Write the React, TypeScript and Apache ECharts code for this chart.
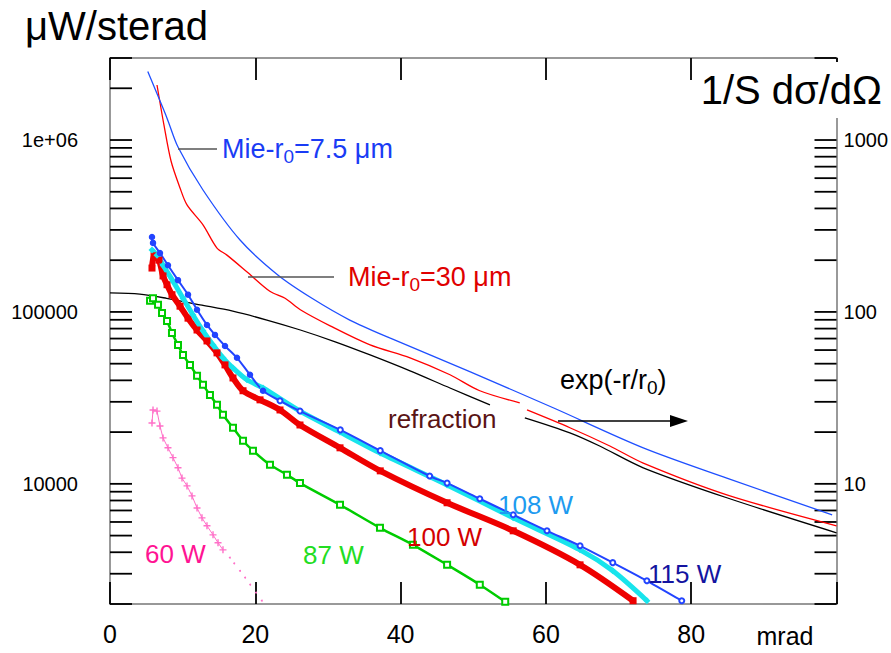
import React, { useEffect, useRef } from "react";
import * as echarts from "echarts";

const FONT = '"Liberation Sans", Arial, Helvetica, sans-serif';

// x ticks
const xTickLabels = ["0", "20", "40", "60", "80"];

// Theory curves [mrad, µW/sterad]
const mie75 = [
  [5.2, 2.5e6], [7.85, 1.34e6], [9.36, 9.1e5], [12.8, 5.12e5], [17.9, 2.62e5],
  [23.1, 1.64e5], [27.8, 1.2e5], [33.0, 8.97e4], [38.5, 7.06e4], [49.6, 4.48e4],
  [61.0, 2.77e4], [73.4, 1.62e4], [84.9, 1.08e4], [99.4, 6600],
];
const mie30a = [
  [6.47, 2.09e6], [7.43, 1.22e6], [8.4, 7.55e5], [9.64, 5.26e5], [10.6, 4.19e5],
  [12.8, 3.21e5], [14.7, 2.36e5], [16.1, 2.14e5], [19.0, 1.69e5], [22.0, 1.32e5],
  [24.1, 1.2e5], [26.2, 1.03e5], [30.3, 8.3e4], [35.8, 6.43e4], [41.3, 5.41e4],
  [46.8, 4.31e4], [50.9, 3.48e4], [56.4, 2.96e4],
];
const mie30b = [
  [57.4, 2.69e4], [63.3, 2.12e4], [68.8, 1.66e4], [73.4, 1.32e4], [84.9, 8630],
  [100, 5700],
];
const refrA = [
  [0, 1.29e5], [4.1, 1.27e5], [7.8, 1.2e5], [12.4, 1.1e5], [16.9, 1.01e5],
  [21.6, 8.97e4], [26.2, 7.85e4], [31.0, 6.7e4], [35.8, 5.62e4], [41.3, 4.54e4],
  [46.8, 3.61e4], [52.3, 2.88e4],
];
const refrB = [
  [57.1, 2.42e4], [63.3, 1.98e4], [67.4, 1.66e4], [73.4, 1.24e4], [84.9, 8300],
  [100, 5190],
];

// Measurements
const w115 = [
  [5.78, 2.73e5], [5.92, 2.52e5], [6.88, 2.2e5], [7.98, 1.87e5], [9.36, 1.53e5],
  [10.74, 1.26e5], [11.98, 1.03e5], [13.35, 8.4e4], [14.45, 7.35e4], [15.83, 6.34e4],
  [17.48, 5.41e4], [19.27, 4.31e4], [21.06, 3.48e4], [23.4, 3.04e4], [26.15, 2.65e4],
  [31.7, 2.06e4], [37.2, 1.56e4], [44.0, 1.11e4], [46.4, 1.01e4], [50.9, 8190],
  [55.5, 6610], [60.15, 5330], [64.7, 4360], [69.2, 3480], [73.9, 2730], [78.7, 2090],
];
const w108 = [
  [5.78, 2.29e5], [6.47, 2.14e5], [7.3, 1.87e5], [8.67, 1.51e5], [10.05, 1.2e5],
  [11.42, 9.6e4], [12.8, 7.76e4], [14.18, 6.43e4], [15.55, 5.41e4], [16.93, 4.72e4],
  [18.86, 4.03e4], [21.06, 3.61e4], [26.15, 2.65e4], [31.66, 2.0e4], [37.2, 1.51e4],
  [46.4, 9860], [55.5, 6340], [64.7, 4130], [69.2, 3120], [73.9, 2090],
];
const w100 = [
  [5.78, 1.8e5], [6.06, 2.12e5], [6.74, 2.0e5], [7.3, 1.62e5], [7.85, 1.44e5],
  [8.53, 1.26e5], [9.64, 1.08e5], [10.74, 9.2e4], [11.98, 7.85e4], [13.35, 6.78e4],
  [14.73, 5.78e4], [15.83, 4.92e4], [16.93, 4.13e4], [18.31, 3.48e4], [20.65, 3.08e4],
  [23.4, 2.69e4], [26.15, 2.2e4], [31.66, 1.62e4], [37.2, 1.19e4], [46.4, 7760],
  [55.5, 5330], [64.7, 3380], [72.0, 2090],
];
const w87 = [
  [5.51, 1.16e5], [5.92, 1.2e5], [6.61, 1.1e5], [7.16, 9.86e4], [7.85, 8.87e4],
  [8.53, 7.55e4], [9.36, 6.43e4], [10.05, 5.62e4], [11.01, 4.92e4], [11.98, 4.25e4],
  [12.8, 3.77e4], [13.76, 3.29e4], [14.73, 2.88e4], [15.55, 2.52e4], [16.93, 2.12e4],
  [18.31, 1.78e4], [19.68, 1.56e4], [22.02, 1.29e4], [24.36, 1.13e4], [26.15, 1.01e4],
  [31.66, 7550], [37.16, 5550], [41.7, 4420], [46.4, 3380], [50.9, 2590], [54.4, 2060],
];
const w60plus = [
  [5.78, 2.26e4], [5.92, 2.69e4], [6.47, 2.65e4], [6.88, 2.17e4], [7.3, 1.85e4],
  [7.98, 1.62e4], [8.67, 1.42e4], [9.36, 1.24e4], [9.91, 1.08e4], [10.6, 9730],
  [11.29, 8510], [11.98, 7240], [12.66, 6340], [13.35, 5700], [14.18, 5050],
  [14.87, 4540], [15.55, 4130],
];
const w60dots = [
  [16.5, 3720], [17.1, 3450], [17.9, 3120], [18.6, 2850], [19.3, 2590],
  [20.1, 2330], [20.9, 2090],
];

// log-axis tick values (left axis; right axis = left / 1000)
const yTickValues = [
  2000, 3000, 4000, 5000, 6000, 7000, 8000, 9000,
  10000, 20000, 30000, 40000, 50000, 60000, 70000, 80000, 90000,
  100000, 200000, 300000, 400000, 500000, 600000, 700000, 800000, 900000,
  1000000, 2000000, 3000000,
];

const PLUS = "path://M4,0h2v4h4v2h-4v4h-2v-4h-4v-2h4z";

function isPow10(v: number) {
  const l = Math.log10(v);
  return Math.abs(l - Math.round(l)) < 1e-6;
}

export default function App() {
  const ref = useRef<HTMLDivElement>(null);
  useEffect(() => {
    document.body.style.margin = "0";
    const chart = echarts.init(ref.current!, null, { renderer: "svg" });
    const axisGray = { color: "#777", width: 1.5 };
    const sub = (color: string) => ({
      a: { fontSize: 27, fontFamily: FONT, fill: color, color, lineHeight: 34 },
      s: { fontSize: 19, fontFamily: FONT, fill: color, color, lineHeight: 19, verticalAlign: "bottom" },
    });
    const label = (x: number, y: number, text: string, color: string, size = 26) => ({
      type: "text",
      x,
      y,
      z: 100,
      style: {
        text,
        fill: color,
        font: `${size}px ${FONT}`,
        fontSize: size,
        fontFamily: FONT,
        verticalAlign: "middle",
        textVerticalAlign: "middle",
      },
    });
    const option: any = {
      animation: false,
      grid: { left: 110, top: 58, width: 727, height: 546, containLabel: false },
      xAxis: [
        {
          type: "value", min: 0, max: 100, interval: 20, position: "bottom",
          axisLine: { show: true, onZero: false, lineStyle: axisGray },
          axisTick: { show: true, inside: true, length: 22, lineStyle: { color: "#000", width: 1.8 } },
          axisLabel: {
            margin: 17, fontSize: 25, fontFamily: FONT, color: "#000",
            formatter: (v: number) => (v < 100 ? xTickLabels[Math.round(v / 20)] : ""),
          },
          splitLine: { show: false },
        },
        {
          type: "value", min: 0, max: 100, interval: 20, position: "top",
          axisLine: { show: true, onZero: false, lineStyle: axisGray },
          axisTick: { show: true, inside: true, length: 22, lineStyle: { color: "#000", width: 1.8 } },
          axisLabel: { show: false },
          splitLine: { show: false },
        },
      ],
      yAxis: [
        {
          type: "log", logBase: 10, min: 2000, max: 3e6, position: "left",
          axisLine: { show: true, onZero: false, lineStyle: axisGray },
          axisTick: { show: false },
          splitLine: { show: false },
          axisLabel: {
            margin: 32, fontSize: 20, fontFamily: FONT, color: "#000",
            padding: [7, 0, 0, 0],
            showMinLabel: false, showMaxLabel: false,
            formatter: (v: number) => {
              if (!isPow10(v)) return "";
              const r = Math.round(v);
              return r >= 1e6 ? "1e+06" : String(r);
            },
          },
        },
        {
          type: "log", logBase: 10, min: 2, max: 3000, position: "right",
          axisLine: { show: true, onZero: false, lineStyle: axisGray },
          axisTick: { show: false },
          splitLine: { show: false },
          axisLabel: {
            margin: 7, fontSize: 20, fontFamily: FONT, color: "#000",
            showMinLabel: false, showMaxLabel: false,
            formatter: (v: number) => (isPow10(v) ? String(Math.round(v)) : ""),
          },
        },
      ],
      series: [
        {
          type: "custom",
          xAxisIndex: 0, yAxisIndex: 0,
          silent: true,
          clip: false,
          data: yTickValues.map((v) => [0, v]),
          encode: { x: 0, y: 1 },
          renderItem: (params: any, api: any) => {
            const v = api.value(1);
            const pl = api.coord([0, v]);
            const pr = api.coord([100, v]);
            const st = { stroke: "#000", lineWidth: 1.8 };
            return {
              type: "group",
              children: [
                { type: "line", shape: { x1: pl[0], y1: pl[1], x2: pl[0] + 22, y2: pl[1] }, style: st },
                { type: "line", shape: { x1: pr[0] - 22, y1: pr[1], x2: pr[0], y2: pr[1] }, style: st },
              ],
            };
          },
        },
        { type: "line", data: refrA, smooth: 0.3, showSymbol: false, lineStyle: { color: "#000", width: 1.3 }, silent: true },
        { type: "line", data: refrB, smooth: 0.3, showSymbol: false, lineStyle: { color: "#000", width: 1.3 }, silent: true },
        { type: "line", data: mie30a, smooth: 0.3, showSymbol: false, lineStyle: { color: "#ff0000", width: 1.3 }, silent: true },
        { type: "line", data: mie30b, smooth: 0.3, showSymbol: false, lineStyle: { color: "#ff0000", width: 1.3 }, silent: true },
        { type: "line", data: mie75, smooth: 0.3, showSymbol: false, lineStyle: { color: "#1f4fff", width: 1.3 }, silent: true },
        {
          type: "line", data: w87, smooth: 0.3, symbol: "emptyRect", symbolSize: 6,
          lineStyle: { color: "#00cc00", width: 2.5 },
          itemStyle: { color: "#00cc00", borderColor: "#00cc00", borderWidth: 1.5 }, silent: true,
        },
        {
          type: "line", data: w60plus, symbol: PLUS, symbolSize: 7,
          lineStyle: { color: "#ff70c8", width: 1 },
          itemStyle: { color: "#ff70c8" }, silent: true,
        },
        {
          type: "line", data: w60dots, symbol: "circle", symbolSize: 2,
          lineStyle: { width: 0, opacity: 0 },
          itemStyle: { color: "#ff70c8" }, silent: true,
        },
        {
          type: "line", data: w100, smooth: 0.3, symbol: "rect", symbolSize: 7,
          lineStyle: { color: "#ee0000", width: 6 },
          itemStyle: { color: "#ee0000" }, silent: true,
        },
        {
          type: "line", data: w108, smooth: 0.3, symbol: "diamond", symbolSize: 7,
          lineStyle: { color: "#18e4ec", width: 5 },
          itemStyle: { color: "#18e4ec" }, silent: true,
        },
        {
          type: "line", data: w115, smooth: 0.3,
          symbol: (value: number[]) => (value[0] > 22 ? "emptyCircle" : "circle"),
          symbolSize: 5,
          lineStyle: { color: "#2244ff", width: 2 },
          itemStyle: { color: "#2244ff", borderColor: "#2244ff", borderWidth: 1.5 }, silent: true,
        },
      ],
      graphic: [
        label(25, 26, "μW/sterad", "#000", 40),
        {
          type: "text", x: 882, y: 90, z: 100,
          style: {
            text: "1/S dσ/dΩ", fill: "#000", font: `40px ${FONT}`, fontSize: 40, fontFamily: FONT,
            align: "right", textAlign: "right", verticalAlign: "middle", textVerticalAlign: "middle",
            backgroundColor: "#fff", padding: [8, 0, 8, 0],
          },
        },
        { type: "line", z: 100, shape: { x1: 178, y1: 149, x2: 217, y2: 149 }, style: { stroke: "#555", lineWidth: 1.5 } },
        { type: "line", z: 100, shape: { x1: 248, y1: 277, x2: 334, y2: 277 }, style: { stroke: "#555", lineWidth: 1.5 } },
        {
          type: "text", x: 222, y: 149, z: 100,
          style: { text: "{a|Mie-r}{s|0}{a|=7.5 μm}", rich: sub("#1a3cf5"), verticalAlign: "middle", textVerticalAlign: "middle" },
        },
        {
          type: "text", x: 348, y: 277, z: 100,
          style: { text: "{a|Mie-r}{s|0}{a|=30 μm}", rich: sub("#e00000"), verticalAlign: "middle", textVerticalAlign: "middle" },
        },
        {
          type: "text", x: 560, y: 380, z: 100,
          style: { text: "{a|exp(-r/r}{s|0}{a|)}", rich: sub("#000"), verticalAlign: "middle", textVerticalAlign: "middle" },
        },
        { type: "line", z: 100, shape: { x1: 558, y1: 421, x2: 675, y2: 421 }, style: { stroke: "#000", lineWidth: 1.5 } },
        { type: "polygon", z: 100, shape: { points: [[670, 415], [688, 421], [670, 427]] }, style: { fill: "#000" } },
        label(388, 419, "refraction", "#5a1414"),
        label(145, 554, "60 W", "#ff1493"),
        label(303, 555, "87 W", "#22dd22"),
        label(407, 537, "100 W", "#d40000"),
        label(498, 505, "108 W", "#1e9bf0"),
        label(648, 574, "115 W", "#1414a0"),
        {
          type: "text", x: 785, y: 636, z: 100,
          style: {
            text: "mrad", fill: "#000", font: `25px ${FONT}`, fontSize: 25, fontFamily: FONT,
            align: "center", textAlign: "center", verticalAlign: "middle", textVerticalAlign: "middle",
          },
        },
      ],
    };
    chart.setOption(option);
    return () => chart.dispose();
  }, []);
  return <div ref={ref} style={{ width: 891, height: 653 }} />;
}
